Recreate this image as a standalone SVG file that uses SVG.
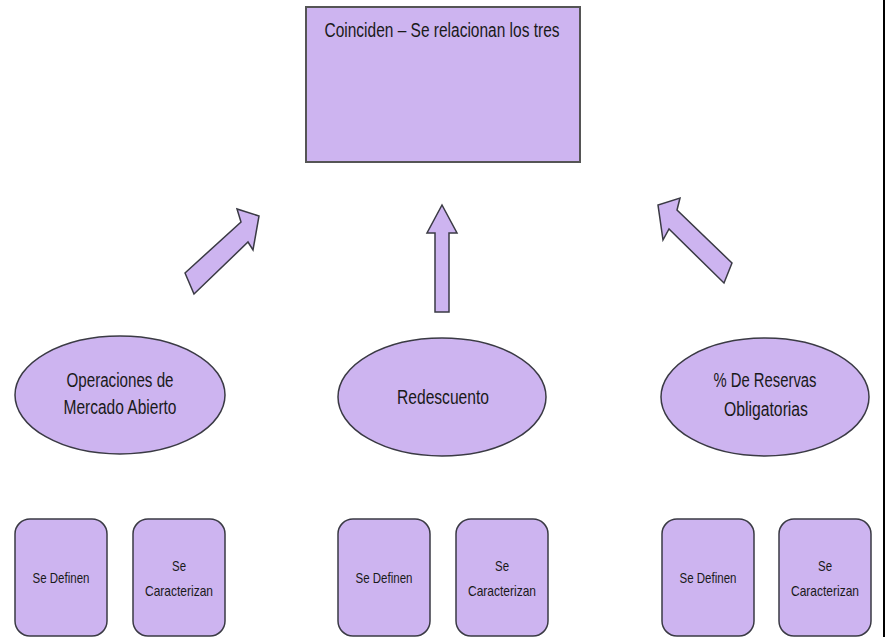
<svg xmlns="http://www.w3.org/2000/svg" width="885" height="637" viewBox="0 0 885 637">
<style>
.shape{fill:#CDB4F0;stroke:#3a3a44;stroke-width:1.5}
.t{font-family:"Liberation Sans",Arial,sans-serif;fill:#1a1a1a;text-anchor:middle}
.big{font-size:19.5px}
.small{font-size:14.5px}
</style>
<rect width="885" height="637" fill="#ffffff"/>
<line x1="884" y1="0" x2="884" y2="637" stroke="#000" stroke-width="2"/>
<g id="top">
<rect class="shape" x="306" y="7" width="274" height="155" style="stroke:#555;stroke-width:2"/>
<text class="t big" x="442" y="37" textLength="235" lengthAdjust="spacingAndGlyphs">Coinciden – Se relacionan los tres</text>
</g>
<g id="connectors">
<polygon class="shape" points="185,273 241,222 237,209 259,216 253,250 248,242 194,294"/>
<polygon class="shape" points="435,312 435,233 427,233 442,205 457,233 449,233 449,312"/>
<polygon class="shape" points="732,263 677,210 680,198 658,205 663,240 669,229 724,283"/>
</g>
<g id="op">
<ellipse class="shape" cx="120" cy="395" rx="105" ry="59"/>
<text class="t big" x="120" y="387" textLength="107" lengthAdjust="spacingAndGlyphs">Operaciones de</text>
<text class="t big" x="120" y="414" textLength="113" lengthAdjust="spacingAndGlyphs">Mercado Abierto</text>
</g>
<g id="red">
<ellipse class="shape" cx="442" cy="397" rx="104" ry="59"/>
<text class="t big" x="443" y="404" textLength="92" lengthAdjust="spacingAndGlyphs">Redescuento</text>
</g>
<g id="res">
<ellipse class="shape" cx="765" cy="397" rx="104" ry="59"/>
<text class="t big" x="765" y="387" textLength="103" lengthAdjust="spacingAndGlyphs">% De Reservas</text>
<text class="t big" x="766" y="416" textLength="84" lengthAdjust="spacingAndGlyphs">Obligatorias</text>
</g>
<g id="b1">
<rect class="shape" x="15" y="519" width="92" height="117" rx="15"/>
<text class="t small" x="61" y="583" textLength="57" lengthAdjust="spacingAndGlyphs">Se Definen</text>
</g>
<g id="b2">
<rect class="shape" x="133" y="519" width="92" height="117" rx="15"/>
<text class="t small" x="179" y="571" textLength="14" lengthAdjust="spacingAndGlyphs">Se</text>
<text class="t small" x="179" y="596" textLength="68" lengthAdjust="spacingAndGlyphs">Caracterizan</text>
</g>
<g id="b3">
<rect class="shape" x="338" y="519" width="92" height="117" rx="15"/>
<text class="t small" x="384" y="583" textLength="57" lengthAdjust="spacingAndGlyphs">Se Definen</text>
</g>
<g id="b4">
<rect class="shape" x="456" y="519" width="92" height="117" rx="15"/>
<text class="t small" x="502" y="571" textLength="14" lengthAdjust="spacingAndGlyphs">Se</text>
<text class="t small" x="502" y="596" textLength="68" lengthAdjust="spacingAndGlyphs">Caracterizan</text>
</g>
<g id="b5">
<rect class="shape" x="662" y="519" width="92" height="117" rx="15"/>
<text class="t small" x="708" y="583" textLength="57" lengthAdjust="spacingAndGlyphs">Se Definen</text>
</g>
<g id="b6">
<rect class="shape" x="779" y="519" width="92" height="117" rx="15"/>
<text class="t small" x="825" y="571" textLength="14" lengthAdjust="spacingAndGlyphs">Se</text>
<text class="t small" x="825" y="596" textLength="68" lengthAdjust="spacingAndGlyphs">Caracterizan</text>
</g>
</svg>
